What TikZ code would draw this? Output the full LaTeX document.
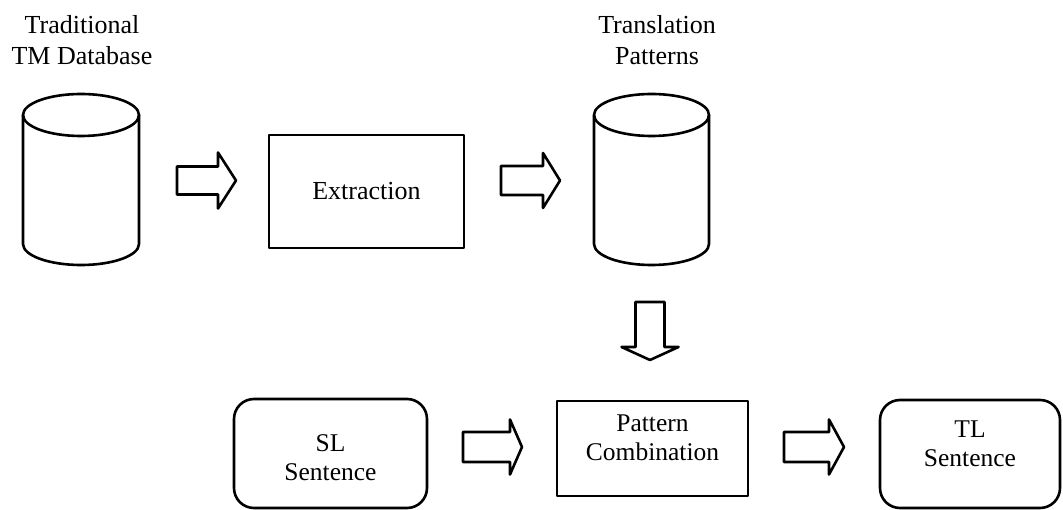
\documentclass[tikz,border=0pt]{standalone}
\usepackage{fontspec}
\setmainfont{Liberation Serif}
\begin{document}
\begin{tikzpicture}[x=1pt,y=-1pt,line join=round,
  ln/.style={draw=black,line width=2.6pt},
  box/.style={ln,rectangle,inner sep=0pt},
  rbox/.style={ln,rectangle,rounded corners=20pt,inner sep=0pt},
  lbl/.style={align=center,font=\fontsize{26}{31}\selectfont,inner sep=0pt},
  slbl/.style={align=center,font=\fontsize{25.5}{29}\selectfont,inner sep=0pt},
  pics/blockarrow/.style n args={4}{code={
    % #1 length, #2 head length, #3 shaft half width, #4 head half width
    \draw[ln] (0,-#3) -- ({#1-#2},-#3) -- ({#1-#2},-#4) -- (#1,0)
      -- ({#1-#2},#4) -- ({#1-#2},#3) -- (0,#3) -- cycle;
  }}]
\useasboundingbox[fill=white] (0,0) rectangle (1063,510);

% databases drawn as cylinders
\newcommand{\dbcyl}[4]{% left, right, top centre y, bottom centre y
  \draw[ln] ({(#1+#2)/2},#3) ellipse ({(#2-#1)/2} and 21);
  \draw[ln] (#1,#3) -- (#1,#4) arc[start angle=180,end angle=360,x radius={(#2-#1)/2},y radius=-21] -- (#2,#3);
}
\dbcyl{23}{139}{115}{244}
\dbcyl{594}{709}{115}{244}
\coordinate (tm) at (81,180);
\coordinate (tp) at (651.5,180);

\node[lbl] (tmlbl) at (82,40) {Traditional\\TM Database};
\node[lbl] (tplbl) at (657,40) {Translation\\Patterns};

\node[box,minimum width=195pt,minimum height=113pt] (ext) at (366.5,191.5) {};
\node[lbl] (extlbl) at (ext.center) {Extraction};

\node[rbox,minimum width=193pt,minimum height=109pt] (sl) at (330.5,453.5) {};
\node[slbl] (sllbl) at ([yshift=-4pt]sl.center) {SL\\Sentence};

\node[box,minimum width=191pt,minimum height=95pt] (pc) at (652.5,448.5) {};
\node[slbl] (pclbl) at ([yshift=11pt]pc.center) {Pattern\\Combination};

\node[rbox,minimum width=180pt,minimum height=108pt] (tl) at (970,454) {};
\node[slbl] (tllbl) at ([yshift=10pt]tl.center) {TL\\Sentence};

% block arrows between the stages
\pic at (177,180.5) {blockarrow={59}{18}{14}{28}};
\pic at (501,180.5) {blockarrow={59}{17}{14.5}{27.5}};
\pic[rotate=-90] at (650,302) {blockarrow={58}{13}{14.5}{28.5}};
\pic at (463,447) {blockarrow={59}{12}{15}{27.5}};
\pic at (784,447) {blockarrow={60}{15}{15}{27.5}};
\end{tikzpicture}
\end{document}
